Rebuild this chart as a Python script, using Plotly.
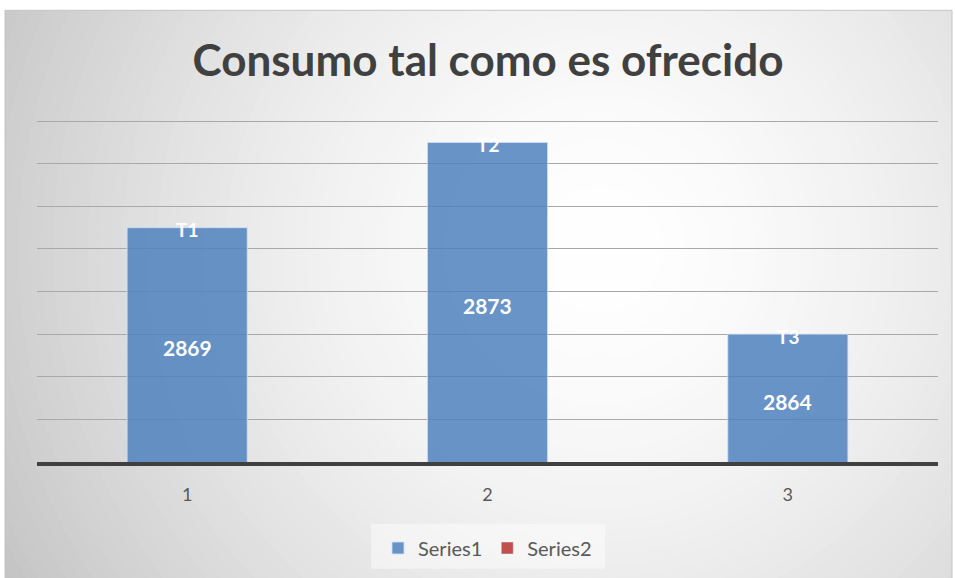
import plotly.graph_objects as go

categories = ["1", "2", "3"]
series1 = [2869, 2873, 2864]
point_names = ["T1", "T2", "T3"]
series2 = []
title_text = "Consumo tal como es ofrecido"
y_min, y_max, y_step = 2858, 2874, 2

W, H = 955, 578
L, R, T, B = 37, 17, 119, 115
PW, PH = W - L - R, H - T - B

def px_x(p):
    return (p - L) / PW

def px_y(p):
    return (H - B - p) / PH

shapes = []
# radial background gradient (frame region)
cx, cy = 600, 250
N = 60
rmax = 720
for i in range(N):
    r = rmax - i * (rmax - 40) / (N - 1)
    v = 255 - 64 * (r / rmax) ** 1.6
    c = int(round(v))
    shapes.append(dict(type="circle", xref="paper", yref="paper",
                       x0=px_x(cx - r), x1=px_x(cx + r),
                       y0=px_y(cy + r), y1=px_y(cy - r),
                       fillcolor=f"rgb({c},{c},{c})", line=dict(width=0),
                       layer="below"))
# white margins outside the chart frame
for (x0, y0, x1, y1) in [(-50, -50, W + 50, 10), (-50, -50, 5, H + 50), (W - 3, -50, W + 50, H + 50)]:
    shapes.append(dict(type="rect", xref="paper", yref="paper",
                       x0=px_x(x0), x1=px_x(x1), y0=px_y(y1), y1=px_y(y0),
                       fillcolor="white", line=dict(width=0), layer="below"))
# frame border
shapes.append(dict(type="rect", xref="paper", yref="paper",
                   x0=px_x(5), x1=px_x(W - 3), y0=px_y(H + 2), y1=px_y(10),
                   fillcolor="rgba(0,0,0,0)", line=dict(width=1, color="#c4c4c4"),
                   layer="below"))
# legend backdrop
shapes.append(dict(type="rect", xref="paper", yref="paper",
                   x0=px_x(371), x1=px_x(605), y0=px_y(570), y1=px_y(525),
                   fillcolor="rgba(255,255,255,0.45)", line=dict(width=0),
                   layer="below"))

mid_vals = [(v + y_min) / 2 for v in series1]

annotations = []
for idx, (v, m, name) in enumerate(zip(series1, mid_vals, point_names)):
    annotations.append(dict(x=idx, y=m, xref="x", yref="y", text=f"<b>{v}</b>",
                            showarrow=False, yshift=-3,
                            font=dict(color="white", size=21, family="Lato")))
    annotations.append(dict(x=idx, y=v, xref="x", yref="y", text=f"<b>{name}</b>",
                            showarrow=False, yshift=-2,
                            font=dict(color="white", size=19, family="Lato")))

fig = go.Figure()
fig.add_trace(go.Bar(
    x=categories, y=series1, name="Series1",
    marker=dict(color="rgba(79,129,189,0.85)", line=dict(color="rgba(210,225,245,0.8)", width=1)),
    width=0.4,
))
fig.add_trace(go.Bar(
    x=categories, y=series2 if series2 else [None] * len(categories), name="Series2",
    marker=dict(color="#c0504d"), width=0.4,
))

fig.update_layout(
    width=W, height=H,
    margin=dict(l=L, r=R, t=T, b=B),
    paper_bgcolor="white",
    plot_bgcolor="rgba(0,0,0,0)",
    shapes=shapes,
    annotations=annotations,
    barmode="overlay",
    title=dict(text=f"<b>{title_text}</b>", x=488 / W, xanchor="center",
               y=1 - 61 / H, yanchor="middle",
               font=dict(family="Lato", size=44, color="#404040")),
    showlegend=True,
    legend=dict(orientation="h", x=0.5, xanchor="center", y=-(548 - (H - B)) / PH,
                yanchor="middle", font=dict(family="Lato", size=20, color="#595959"),
                bgcolor="rgba(0,0,0,0)", itemwidth=30, tracegroupgap=0),
    xaxis=dict(type="category", showgrid=False, showline=True, linecolor="#404040", linewidth=4,
               ticks="", tickfont=dict(family="Lato", size=18, color="#595959"),
               ticklabelstandoff=13),
    yaxis=dict(range=[y_min, y_max + 0.1], tick0=y_min, dtick=y_step, showticklabels=False,
               showgrid=True, gridcolor="#a9a9a9", gridwidth=1,
               zeroline=False, showline=False),
)

fig.write_html("out.html", config={"displayModeBar": False},
               post_script="document.body.style.margin='0px';")
